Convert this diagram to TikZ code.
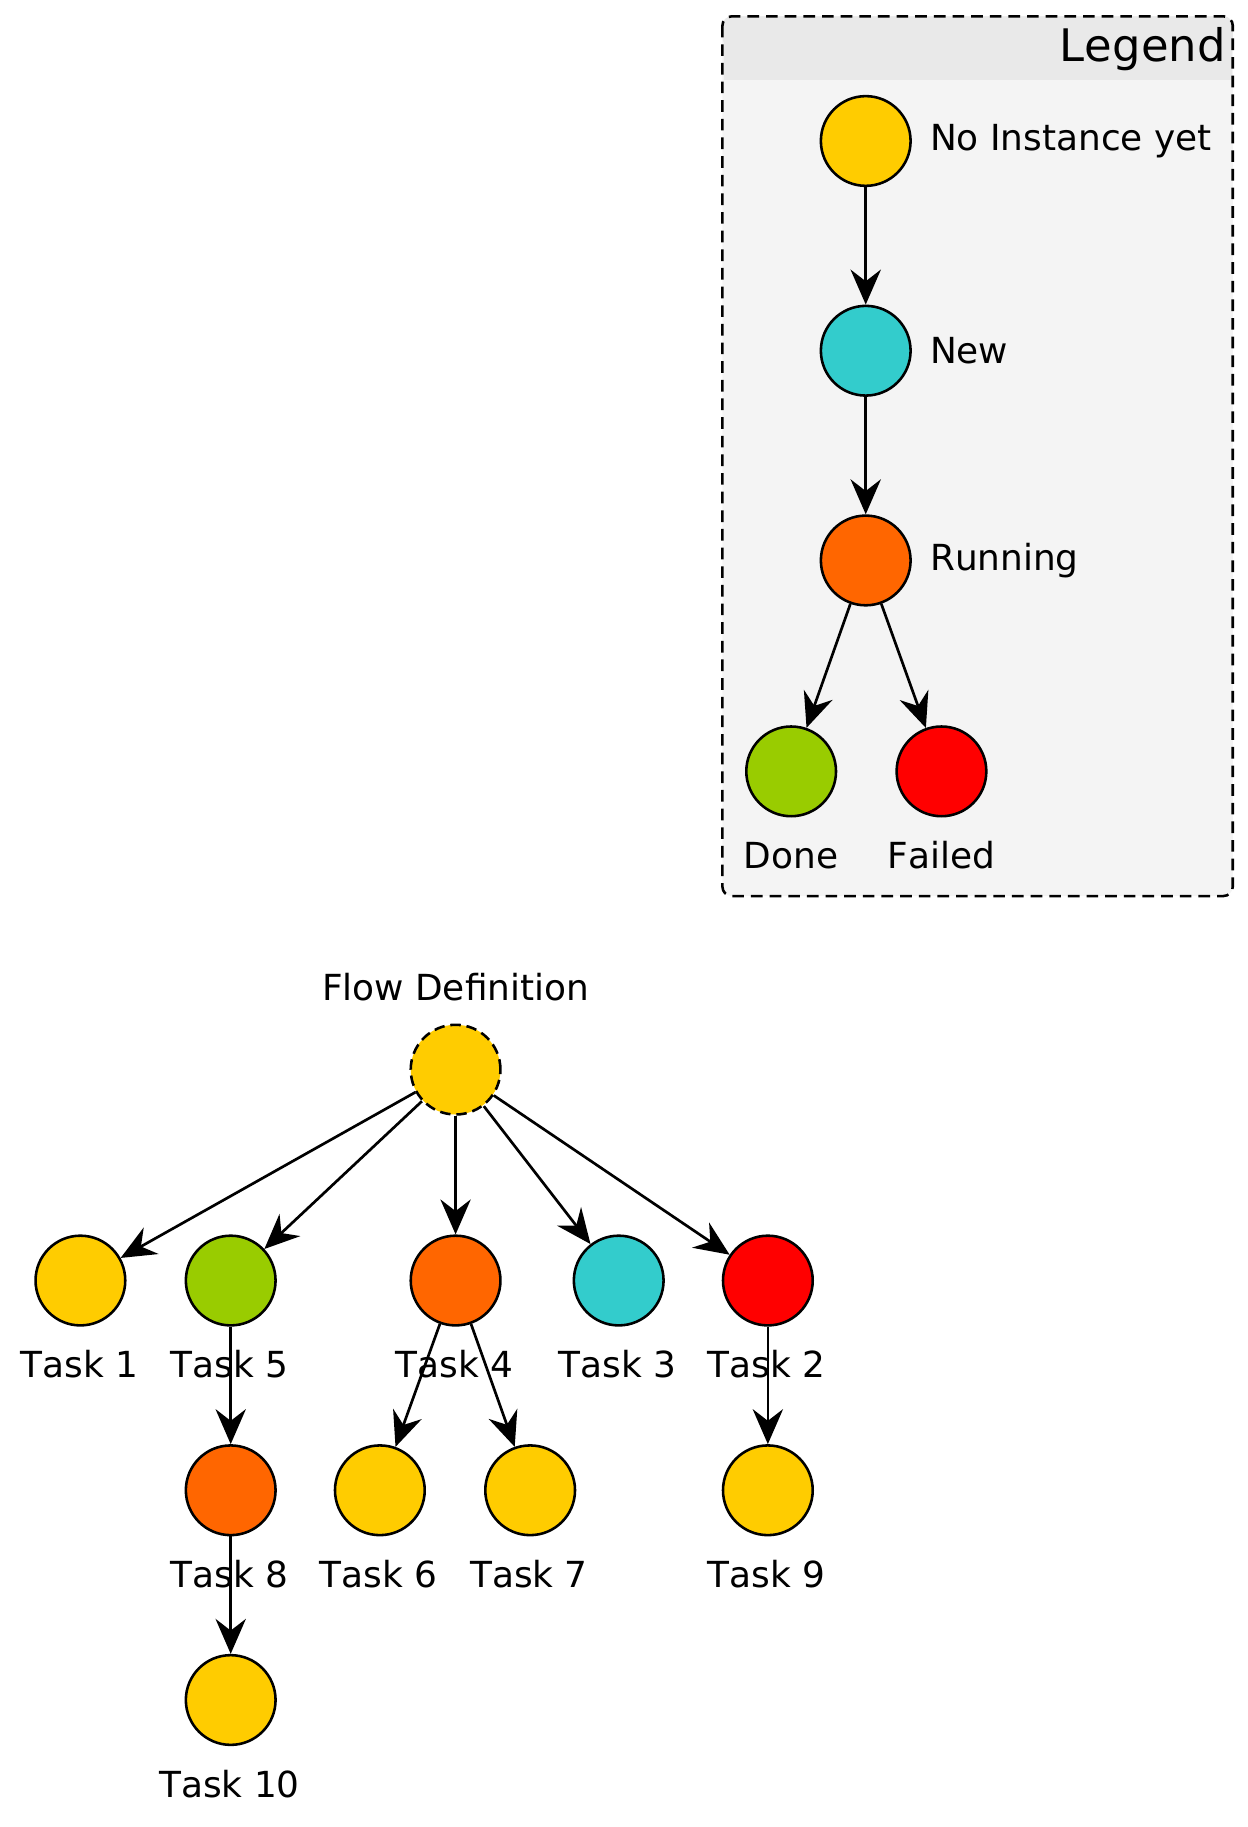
\documentclass[tikz,border=0pt]{standalone}
\usepackage{fontspec}
\setmainfont{DejaVu Sans}[Kerning=Off]
\usetikzlibrary{arrows.meta}
\definecolor{cyel}{HTML}{FFCC00}
\definecolor{ccyan}{HTML}{33CCCC}
\definecolor{corange}{HTML}{FF6600}
\definecolor{cgreen}{HTML}{99CC00}
\definecolor{cred}{HTML}{FF0000}
\definecolor{legbg}{HTML}{F4F4F4}
\definecolor{leghead}{HTML}{E9E9E9}
\tikzset{
  x=1pt, y=-1pt,
  state/.style={circle, draw=black, line width=2.2pt, minimum size=77pt, inner sep=0pt},
  lbl/.style={font=\fontsize{30.8}{36}\selectfont, inner sep=0pt},
  conn/.style={line width=2.3pt, -{Stealth[length=30pt, width=26pt, inset=10pt]}},
  dsh/.style={dash pattern=on 10pt off 6pt}
}
\begin{document}
\begin{tikzpicture}
\useasboundingbox (0,0) rectangle (1071,1568);
% legend container
\fill[legbg, rounded corners=8pt] (620,14) rectangle (1058,769);
\fill[leghead, rounded corners=8pt] (620,14) rectangle (1058,40);
\fill[leghead] (621,30) rectangle (1057,69);
\draw[dsh, line width=2.2pt, rounded corners=8pt] (620,14) rectangle (1058,769);
\node[lbl, font=\fontsize{38.5}{44}\selectfont, anchor=east] (legtitle) at (1052,42) {Legend};
% legend states
\node[state, fill=cyel] (lno) at (743,121) {};
\node[state, fill=ccyan] (lnew) at (743,301) {};
\node[state, fill=corange] (lrun) at (743,481) {};
\node[state, fill=cgreen] (ldone) at (679,662) {};
\node[state, fill=cred] (lfail) at (808,662) {};
\node[lbl, anchor=west] (tno) at (798,121) {No Instance yet};
\node[lbl, anchor=west] (tnew) at (798,301) {New};
\node[lbl, anchor=west] (trun) at (798,481) {Running};
\node[lbl] (tdone) at (679,734) {Done};
\node[lbl] (tfail) at (808,734) {Failed};
\draw[conn] (lno) -- (lnew);
\draw[conn] (lnew) -- (lrun);
\draw[conn] (lrun) -- (ldone);
\draw[conn] (lrun) -- (lfail);
% flow
\node[state, fill=cyel, dash pattern=on 9pt off 5pt] (root) at (391,918) {};
\node[lbl] (troot) at (391,847) {Flow Definition};
\node[state, fill=cyel] (t1) at (69,1099) {};
\node[state, fill=cgreen] (t5) at (198,1099) {};
\node[state, fill=corange] (t4) at (391,1099) {};
\node[state, fill=ccyan] (t3) at (531,1099) {};
\node[state, fill=cred] (t2) at (659,1099) {};
\node[state, fill=corange] (t8) at (198,1279) {};
\node[state, fill=cyel] (t6) at (326,1279) {};
\node[state, fill=cyel] (t7) at (455,1279) {};
\node[state, fill=cyel] (t9) at (659,1279) {};
\node[state, fill=cyel] (t10) at (198,1459) {};
\node[lbl] (l1) at (68,1171) {Task 1};
\node[lbl] (l5) at (197,1171) {Task 5};
\node[lbl] (l4) at (390,1171) {Task 4};
\node[lbl] (l3) at (530,1171) {Task 3};
\node[lbl] (l2) at (658,1171) {Task 2};
\node[lbl] (l8) at (197,1351) {Task 8};
\node[lbl] (l6) at (325,1351) {Task 6};
\node[lbl] (l7) at (454,1351) {Task 7};
\node[lbl] (l9) at (658,1351) {Task 9};
\node[lbl] (l10) at (197,1531) {Task 10};
\draw[conn] (root) -- (t1);
\draw[conn] (root) -- (t5);
\draw[conn] (root) -- (t4);
\draw[conn] (root) -- (t3);
\draw[conn] (root) -- (t2);
\draw[conn] (t5) -- (t8);
\draw[conn] (t8) -- (t10);
\draw[conn] (t4) -- (t6);
\draw[conn] (t4) -- (t7);
\draw[conn] (t2) -- (t9);
\end{tikzpicture}
\end{document}
